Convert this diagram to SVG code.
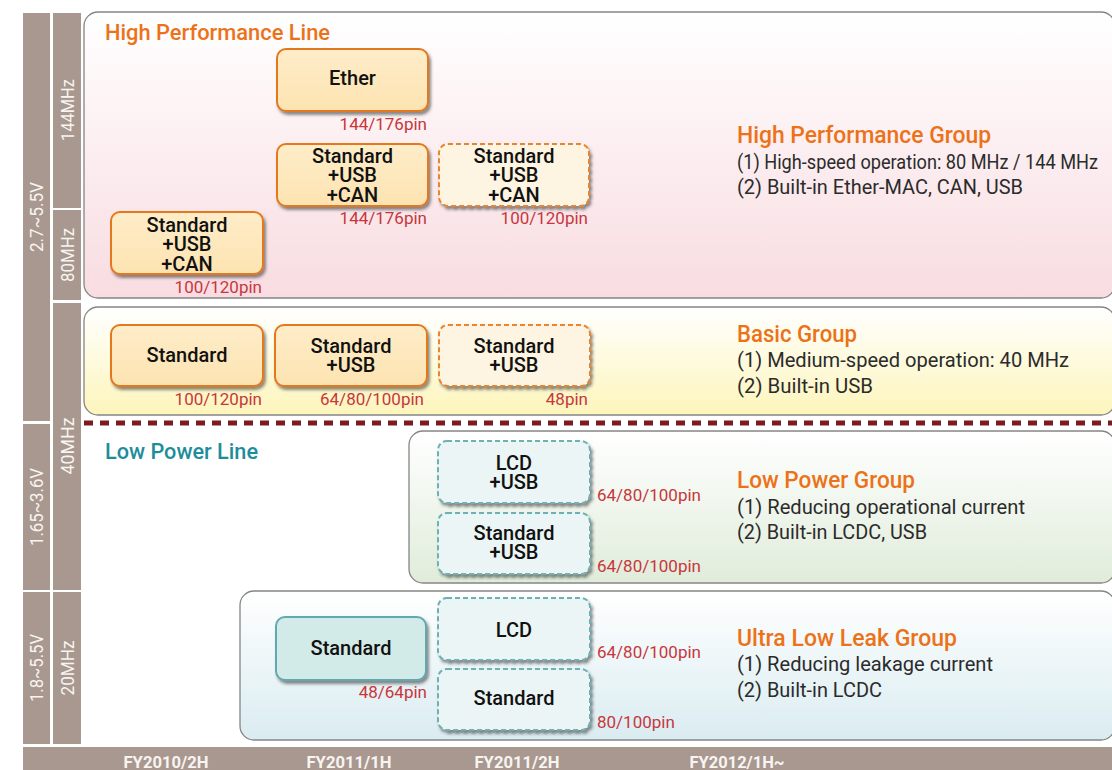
<svg xmlns="http://www.w3.org/2000/svg" width="1112" height="770" viewBox="0 0 1112 770">
  <defs>
    <linearGradient id="gPink" x1="0" y1="0" x2="0" y2="1">
      <stop offset="0" stop-color="#ffffff"/>
      <stop offset="1" stop-color="#f8dce1"/>
    </linearGradient>
    <linearGradient id="gYellow" x1="0" y1="0" x2="0" y2="1">
      <stop offset="0" stop-color="#ffffff"/>
      <stop offset="1" stop-color="#fdf5bb"/>
    </linearGradient>
    <linearGradient id="gGreen" x1="0" y1="0" x2="0" y2="1">
      <stop offset="0" stop-color="#ffffff"/>
      <stop offset="1" stop-color="#e0ecda"/>
    </linearGradient>
    <linearGradient id="gBlue" x1="0" y1="0" x2="0" y2="1">
      <stop offset="0" stop-color="#ffffff"/>
      <stop offset="1" stop-color="#daecf1"/>
    </linearGradient>
    <linearGradient id="gOrange" x1="0" y1="0" x2="0" y2="1">
      <stop offset="0" stop-color="#feedc9"/>
      <stop offset="1" stop-color="#fde3b1"/>
    </linearGradient>
    <filter id="shadow" x="-10%" y="-10%" width="125%" height="135%">
      <feDropShadow dx="2" dy="3" stdDeviation="1.6" flood-color="#333" flood-opacity="0.55"/>
    </filter>
    <style>
      .bar { fill: #a8988f; }
      .barText { fill: #f8f4f2; font-family: Roboto, "Liberation Sans", sans-serif; font-size: 18px; text-anchor: middle; }
      .axisText { fill: #f8f4f2; font-family: Roboto, "Liberation Sans", sans-serif; font-size: 17px; font-weight: bold; text-anchor: middle; }
      .region { stroke: #858585; stroke-width: 1.3; }
      .lineTitle { font-family: Roboto, "Liberation Sans", sans-serif; font-size: 22px; font-weight: 500; }
      .grpTitle { fill: #ec7219; font-family: Roboto, "Liberation Sans", sans-serif; font-size: 24px; font-weight: 500; }
      .grpText { fill: #2b2b2b; font-family: Roboto, "Liberation Sans", sans-serif; font-size: 20px; }
      .node { filter: url(#shadow); }
      .solidO { fill: url(#gOrange); stroke: #e3781d; stroke-width: 2; }
      .dashO { fill: #fdf4e1; stroke: #e8852f; stroke-width: 2; stroke-dasharray: 5 3; }
      .solidT { fill: #d3ebe8; stroke: #62a8ae; stroke-width: 2; }
      .dashT { fill: #ebf5f5; stroke: #6db0b5; stroke-width: 2; stroke-dasharray: 5 3; }
      .label { fill: #111; font-family: Roboto, "Liberation Sans", sans-serif; font-size: 20px; font-weight: 500; text-anchor: middle; }
      .pin { fill: #c7373c; font-family: Roboto, "Liberation Sans", sans-serif; font-size: 17px; }
      .pinR { text-anchor: end; }
    </style>
  </defs>

  <rect width="1112" height="770" fill="#ffffff"/>

  <!-- voltage column -->
  <g id="voltage-axis">
    <rect class="bar" x="23" y="13" width="27" height="408"/>
    <rect class="bar" x="23" y="424" width="27" height="166"/>
    <rect class="bar" x="23" y="592" width="27" height="152"/>
    <text class="barText" transform="translate(43,217) rotate(-90)" textLength="70" lengthAdjust="spacingAndGlyphs">2.7~5.5V</text>
    <text class="barText" transform="translate(43,507) rotate(-90)" textLength="78" lengthAdjust="spacingAndGlyphs">1.65~3.6V</text>
    <text class="barText" transform="translate(43,668) rotate(-90)" textLength="68" lengthAdjust="spacingAndGlyphs">1.8~5.5V</text>
  </g>

  <!-- frequency column -->
  <g id="frequency-axis">
    <rect class="bar" x="53" y="13" width="28" height="195"/>
    <rect class="bar" x="53" y="210" width="28" height="90"/>
    <rect class="bar" x="53" y="303" width="28" height="287"/>
    <rect class="bar" x="53" y="592" width="28" height="152"/>
    <text class="barText" transform="translate(74,110) rotate(-90)" textLength="62" lengthAdjust="spacingAndGlyphs">144MHz</text>
    <text class="barText" transform="translate(74,255) rotate(-90)" textLength="54" lengthAdjust="spacingAndGlyphs">80MHz</text>
    <text class="barText" transform="translate(74,446) rotate(-90)" textLength="57" lengthAdjust="spacingAndGlyphs">40MHz</text>
    <text class="barText" transform="translate(74,668) rotate(-90)" textLength="55" lengthAdjust="spacingAndGlyphs">20MHz</text>
  </g>

  <!-- time axis -->
  <g id="time-axis">
    <rect class="bar" x="23" y="747" width="1089" height="23"/>
    <text class="axisText" x="166" y="768" textLength="85" lengthAdjust="spacingAndGlyphs">FY2010/2H</text>
    <text class="axisText" x="349" y="768" textLength="85" lengthAdjust="spacingAndGlyphs">FY2011/1H</text>
    <text class="axisText" x="517" y="768" textLength="85" lengthAdjust="spacingAndGlyphs">FY2011/2H</text>
    <text class="axisText" x="737" y="768" textLength="95" lengthAdjust="spacingAndGlyphs">FY2012/1H~</text>
  </g>

  <!-- product group regions -->
  <g id="group-high-performance">
    <rect class="region" x="84" y="12" width="1031" height="286" rx="14" fill="url(#gPink)"/>
    <text class="lineTitle" x="105" y="40" fill="#ec7219" textLength="225" lengthAdjust="spacingAndGlyphs">High Performance Line</text>
    <text class="grpTitle" x="737" y="143" textLength="254" lengthAdjust="spacingAndGlyphs">High Performance Group</text>
    <text class="grpText" x="737" y="169" textLength="361" lengthAdjust="spacingAndGlyphs">(1) High-speed operation: 80 MHz / 144 MHz</text>
    <text class="grpText" x="737" y="194" textLength="286" lengthAdjust="spacingAndGlyphs">(2) Built-in Ether-MAC, CAN, USB</text>
  </g>

  <g id="group-basic">
    <rect class="region" x="84" y="307" width="1031" height="108" rx="14" fill="url(#gYellow)"/>
    <text class="grpTitle" x="737" y="342" textLength="120" lengthAdjust="spacingAndGlyphs">Basic Group</text>
    <text class="grpText" x="737" y="367" textLength="332" lengthAdjust="spacingAndGlyphs">(1) Medium-speed operation: 40 MHz</text>
    <text class="grpText" x="737" y="393" textLength="136" lengthAdjust="spacingAndGlyphs">(2) Built-in USB</text>
  </g>

  <g id="line-divider">
    <line x1="84" y1="423" x2="1112" y2="423" stroke="#7d1b22" stroke-width="5" stroke-dasharray="9 7"/>
    <text class="lineTitle" x="105" y="459" fill="#1e8d9b" textLength="153" lengthAdjust="spacingAndGlyphs">Low Power Line</text>
  </g>

  <g id="group-low-power">
    <rect class="region" x="409" y="431" width="706" height="152" rx="14" fill="url(#gGreen)"/>
    <text class="grpTitle" x="737" y="488" textLength="178" lengthAdjust="spacingAndGlyphs">Low Power Group</text>
    <text class="grpText" x="737" y="514" textLength="288" lengthAdjust="spacingAndGlyphs">(1) Reducing operational current</text>
    <text class="grpText" x="737" y="539" textLength="190" lengthAdjust="spacingAndGlyphs">(2) Built-in LCDC, USB</text>
  </g>

  <g id="group-ultra-low-leak">
    <rect class="region" x="240" y="591" width="875" height="149" rx="14" fill="url(#gBlue)"/>
    <text class="grpTitle" x="737" y="646" textLength="220" lengthAdjust="spacingAndGlyphs">Ultra Low Leak Group</text>
    <text class="grpText" x="737" y="671" textLength="256" lengthAdjust="spacingAndGlyphs">(1) Reducing leakage current</text>
    <text class="grpText" x="737" y="697" textLength="145" lengthAdjust="spacingAndGlyphs">(2) Built-in LCDC</text>
  </g>

  <!-- High performance products -->
  <g id="hp-ether">
    <rect class="node solidO" x="277" y="49" width="151" height="62" rx="9"/>
    <text class="label" x="352.5" y="85">Ether</text>
    <text class="pin pinR" x="427" y="130">144/176pin</text>
  </g>
  <g id="hp-std-usb-can-2011-1h">
    <rect class="node solidO" x="277" y="144" width="151" height="62" rx="9"/>
    <text class="label" x="352.5" y="163">Standard</text>
    <text class="label" x="352.5" y="182">+USB</text>
    <text class="label" x="352.5" y="202">+CAN</text>
    <text class="pin pinR" x="427" y="224">144/176pin</text>
  </g>
  <g id="hp-std-usb-can-2011-2h">
    <rect class="node dashO" x="439" y="144" width="150" height="62" rx="9"/>
    <text class="label" x="514" y="163">Standard</text>
    <text class="label" x="514" y="182">+USB</text>
    <text class="label" x="514" y="202">+CAN</text>
    <text class="pin pinR" x="588" y="224">100/120pin</text>
  </g>
  <g id="hp-std-usb-can-2010-2h">
    <rect class="node solidO" x="111" y="212" width="152" height="62" rx="9"/>
    <text class="label" x="187" y="232">Standard</text>
    <text class="label" x="187" y="251">+USB</text>
    <text class="label" x="187" y="271">+CAN</text>
    <text class="pin pinR" x="262" y="293">100/120pin</text>
  </g>

  <!-- Basic products -->
  <g id="basic-std">
    <rect class="node solidO" x="111" y="325" width="152" height="61" rx="9"/>
    <text class="label" x="187" y="362">Standard</text>
    <text class="pin pinR" x="262" y="405">100/120pin</text>
  </g>
  <g id="basic-std-usb-2011-1h">
    <rect class="node solidO" x="275" y="325" width="152" height="61" rx="9"/>
    <text class="label" x="351" y="353">Standard</text>
    <text class="label" x="351" y="372">+USB</text>
    <text class="pin pinR" x="424" y="405">64/80/100pin</text>
  </g>
  <g id="basic-std-usb-2011-2h">
    <rect class="node dashO" x="439" y="325" width="151" height="61" rx="9"/>
    <text class="label" x="514" y="353">Standard</text>
    <text class="label" x="514" y="372">+USB</text>
    <text class="pin pinR" x="588" y="405">48pin</text>
  </g>

  <!-- Low power products -->
  <g id="lp-lcd-usb">
    <rect class="node dashT" x="438" y="441" width="152" height="62" rx="9"/>
    <text class="label" x="514" y="470">LCD</text>
    <text class="label" x="514" y="489">+USB</text>
    <text class="pin" x="597" y="501">64/80/100pin</text>
  </g>
  <g id="lp-std-usb">
    <rect class="node dashT" x="438" y="513" width="152" height="61" rx="9"/>
    <text class="label" x="514" y="540">Standard</text>
    <text class="label" x="514" y="559">+USB</text>
    <text class="pin" x="597" y="572">64/80/100pin</text>
  </g>

  <!-- Ultra low leak products -->
  <g id="ull-std-2011-1h">
    <rect class="node solidT" x="276" y="617" width="150" height="63" rx="9"/>
    <text class="label" x="351" y="655">Standard</text>
    <text class="pin pinR" x="427" y="698">48/64pin</text>
  </g>
  <g id="ull-lcd">
    <rect class="node dashT" x="438" y="598" width="152" height="62" rx="9"/>
    <text class="label" x="514" y="637">LCD</text>
    <text class="pin" x="597" y="658">64/80/100pin</text>
  </g>
  <g id="ull-std-2011-2h">
    <rect class="node dashT" x="438" y="669" width="152" height="61" rx="9"/>
    <text class="label" x="514" y="705">Standard</text>
    <text class="pin" x="597" y="728">80/100pin</text>
  </g>

  <!-- no connectors in this chart -->
  <g id="connectors"/>
</svg>
